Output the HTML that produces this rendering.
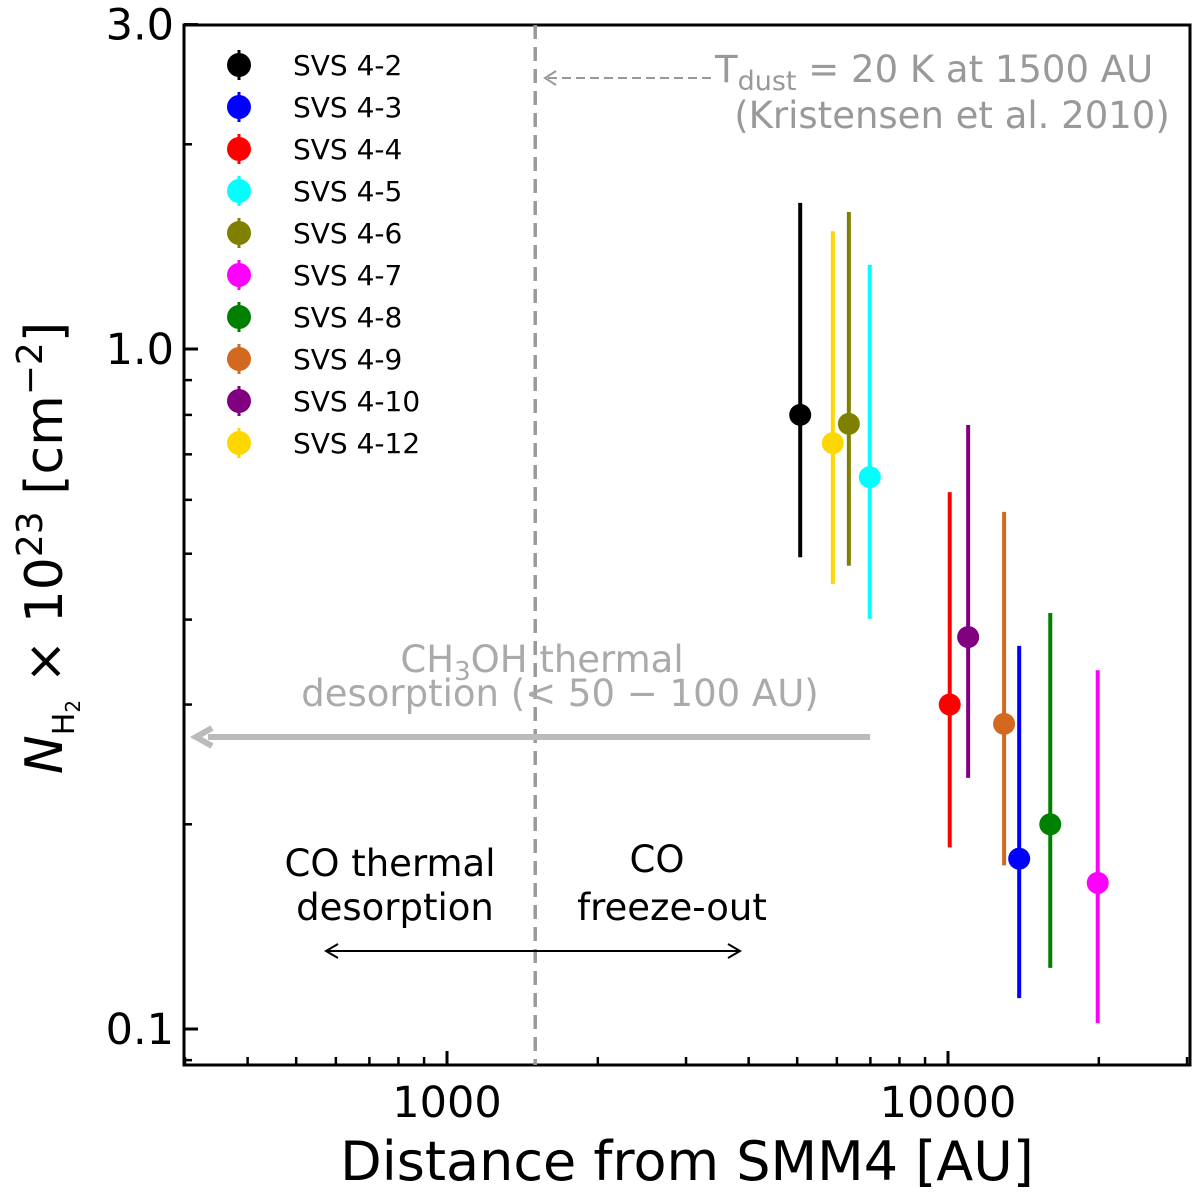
<!DOCTYPE html>
<html><head><meta charset="utf-8"><style>
body{margin:0;background:#fff;}
svg{display:block;font-family:"DejaVu Sans","Liberation Sans",sans-serif;}
</style></head><body>
<svg id="chart" width="1200" height="1200" viewBox="0 0 1200 1200" xmlns="http://www.w3.org/2000/svg"></svg>
<script>
const names=["SVS 4-2","SVS 4-3","SVS 4-4","SVS 4-5","SVS 4-6","SVS 4-7","SVS 4-8","SVS 4-9","SVS 4-10","SVS 4-12"];
const colors=["#000000","#0000ff","#ff0000","#00ffff","#808000","#ff00ff","#008000","#d2691e","#800080","#ffd700"];
const distances=[5070,13870,10080,6980,6340,19900,16000,12940,10970,5890];
const columnDensity=[0.80,0.178,0.30,0.648,0.776,0.164,0.20,0.281,0.377,0.727];
const errHigh=[1.64,0.366,0.616,1.33,1.59,0.337,0.409,0.576,0.773,1.49];
const errLow=[0.494,0.111,0.185,0.401,0.48,0.102,0.123,0.174,0.234,0.451];
const xTickVals=[1000,10000];
const xTickLabels=["1000","10000"];
const yTickVals=[0.1,1.0,3.0];
const yTickLabels=["0.1","1.0","3.0"];
const dustRadius=1500;

const L=184,R=1190,T=25,B=1065;
const X0=447,XD=501;
const Y0=349,YD=680;
const xs=v=>X0+(Math.log10(v)-3)*XD;
const ys=v=>Y0-Math.log10(v)*YD;
const svg=document.getElementById('chart');
const NS="http://www.w3.org/2000/svg";
function mk(tag,attrs,parent){const e=document.createElementNS(NS,tag);for(const k in attrs)e.setAttribute(k,attrs[k]);(parent||svg).appendChild(e);return e;}

const frame=mk('rect',{x:L,y:T,width:R-L,height:B-T,fill:'none',stroke:'#000','stroke-width':3});



const xmin=Math.pow(10,3-(X0-L)/XD), xmax=Math.pow(10,3+(R-X0)/XD);
for(let d=100;d<=100000;d*=10){for(let m=1;m<10;m++){const v=d*m;if(v<xmin||v>xmax)continue;const x=xs(v);const major=(m===1);
const t=mk('line',{x1:x,x2:x,y1:B,y2:B-(major?14:8),stroke:'#000','stroke-width':major?3:2.5});

}}
xTickVals.forEach((v,i)=>{const t=mk('text',{x:xs(v),y:1117,'text-anchor':'middle','font-size':43});t.textContent=xTickLabels[i];

});
const ymin=Math.pow(10,-(B-Y0)/YD);
for(let d=0.01;d<=10;d*=10){for(let m=1;m<10;m++){const v=d*m;if(v<ymin||v>3.001)continue;const y=ys(v);const major=(m===1);
const t=mk('line',{x1:L,x2:L+(major?14:8),y1:y,y2:y,stroke:'#000','stroke-width':major?3:2.5});

}}
mk('line',{x1:L,x2:L+14,y1:ys(3),y2:ys(3),stroke:'#000','stroke-width':3});
yTickVals.forEach((v,i)=>{const t=mk('text',{x:174,y:ys(v)+15,'text-anchor':'end','font-size':43});t.textContent=yTickLabels[i];

});

const xt=mk('text',{x:687,y:1180,'text-anchor':'middle','font-size':54});xt.textContent='Distance from SMM4 [AU]';


const yt=mk('text',{transform:'translate(62,548) rotate(-90)','text-anchor':'middle','font-size':52});
yt.innerHTML='<tspan font-style="italic">N</tspan><tspan font-size="30" dy="12">H</tspan><tspan font-size="20" dy="6">2</tspan><tspan dy="-18"> × 10</tspan><tspan font-size="36" dy="-20">23</tspan><tspan dy="20"> [cm</tspan><tspan font-size="36" dy="-20">−2</tspan><tspan dy="20">]</tspan>';



const dl=mk('line',{x1:xs(dustRadius),x2:xs(dustRadius),y1:T,y2:B,stroke:'#999','stroke-width':3.5,'stroke-dasharray':'14,8'});



function txt(x,y,s,size,fill,name,anchor){const t=mk('text',{x:x,y:y,'font-size':size,fill:fill,'text-anchor':anchor||'middle'});t.innerHTML=s;

return t;}
mk('line',{x1:548,x2:712,y1:78,y2:78,stroke:'#999','stroke-width':2,'stroke-dasharray':'9,5'});
mk('path',{d:'M556,71 L545,78 L556,85',fill:'none',stroke:'#999','stroke-width':2});
txt(715,82,'T<tspan font-size="27" dy="8">dust</tspan><tspan dy="-8"> = 20 K at 1500 AU</tspan>',37,'#999','tdust-annotation','start');
txt(952,128,'(Kristensen et al. 2010)',37,'#999','tdust-reference');
txt(542,672,'CH<tspan font-size="26" dy="8">3</tspan><tspan dy="-8">OH thermal</tspan>',37,'#aaa','ch3oh-label');
txt(560,706,'desorption  (&lt; 50 − 100 AU)',37,'#aaa','ch3oh-label-2');
mk('line',{x1:208,x2:870,y1:737,y2:737,stroke:'#bbb','stroke-width':6});
mk('path',{d:'M212,728 L196,737 L212,746',fill:'none',stroke:'#bbb','stroke-width':6});
txt(390,876,'CO thermal',37,'#000','co-thermal-label');
txt(395,920,'desorption',37,'#000','co-thermal-label-2');
txt(657,872,'CO',37,'#000','co-freeze-label');
txt(672,920,'freeze-out',37,'#000','co-freeze-label-2');
mk('line',{x1:326,x2:740,y1:951,y2:951,stroke:'#000','stroke-width':2});
mk('path',{d:'M338,944 L326,951 L338,958 M728,944 L740,951 L728,958',fill:'none',stroke:'#000','stroke-width':2});

names.forEach((n,i)=>{const g=mk('g',{});


const x=xs(distances[i]);
mk('line',{x1:x,x2:x,y1:ys(errHigh[i]),y2:ys(errLow[i]),stroke:colors[i],'stroke-width':4},g);
mk('circle',{cx:x,cy:ys(columnDensity[i]),r:11,fill:colors[i]},g);});

names.forEach((n,i)=>{const g=mk('g',{});


const y=65+i*42;
mk('line',{x1:239,x2:239,y1:y-15,y2:y+15,stroke:colors[i],'stroke-width':3},g);
mk('circle',{cx:239,cy:y,r:12,fill:colors[i]},g);
const t=mk('text',{x:293,y:y+10,'font-size':28},g);t.textContent=n;});
</script>
</body></html>
